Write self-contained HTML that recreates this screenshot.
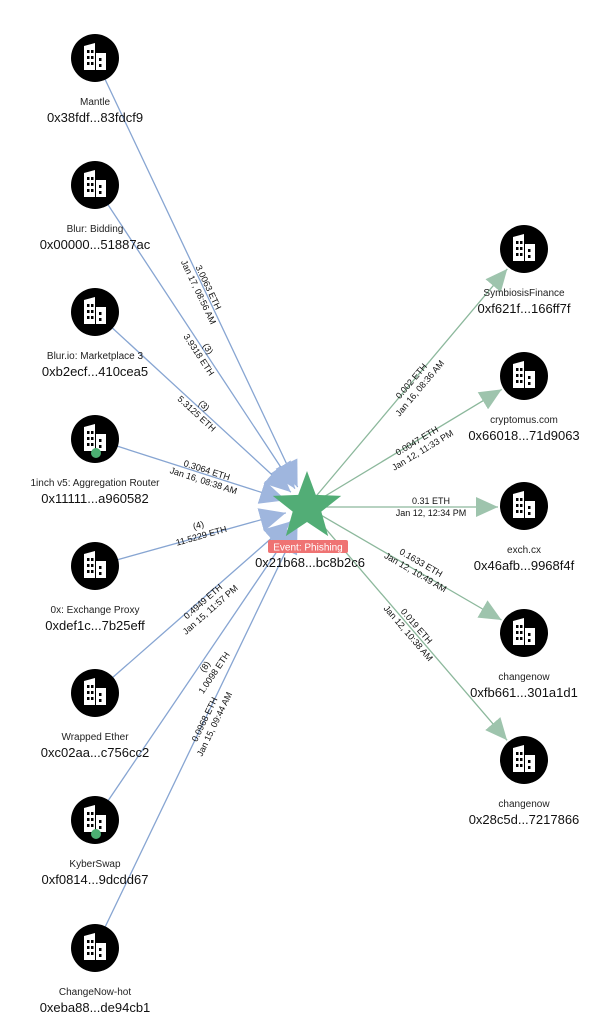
<!DOCTYPE html>
<html><head><meta charset="utf-8"><style>
html,body{margin:0;padding:0;background:#fff;}
svg{display:block;font-family:"Liberation Sans",Arial,sans-serif;}
.el{font-size:9px;fill:#111;text-anchor:middle;}
.nm{font-size:10px;fill:#222;text-anchor:middle;}
.ad{font-size:13px;fill:#111;text-anchor:middle;}
</style></head><body>
<svg width="600" height="1033" viewBox="0 0 600 1033" xmlns="http://www.w3.org/2000/svg">
<defs>
<marker id="ab" markerUnits="userSpaceOnUse" viewBox="0 0 26 24" refX="26" refY="12" markerWidth="26" markerHeight="24" orient="auto"><path d="M0,0 L26,12 L0,24 z" fill="#9fb6de"/></marker>
<marker id="ag" markerUnits="userSpaceOnUse" viewBox="0 0 22 20" refX="22" refY="10" markerWidth="22" markerHeight="20" orient="auto"><path d="M0,0 L22,10 L0,20 z" fill="#9ec4ad"/></marker>
<g id="bld"><circle r="24" fill="#000"/><path d="M-11,-12 L0,-15 L0,12 L-11,12 z" fill="#fff"/><rect x="1" y="-5" width="10" height="17" fill="#fff"/><rect x="-8" y="-8" width="2.5" height="3" fill="#000"/><rect x="-4" y="-8" width="2.5" height="3" fill="#000"/><rect x="-8" y="-2" width="2.5" height="3" fill="#000"/><rect x="-4" y="-2" width="2.5" height="3" fill="#000"/><rect x="-8" y="4" width="2.5" height="3" fill="#000"/><rect x="-4" y="4" width="2.5" height="3" fill="#000"/><rect x="4" y="0" width="2.5" height="3" fill="#000"/><rect x="4" y="6" width="2.5" height="3" fill="#000"/></g>
</defs>
<g stroke="#87a5d2" stroke-width="1.3" fill="none">
<line x1="95" y1="58" x2="297.6" y2="487.1" marker-end="url(#ab)"/>
<line x1="95" y1="185" x2="294.9" y2="488.6" marker-end="url(#ab)"/>
<line x1="95" y1="312" x2="290.8" y2="492.1" marker-end="url(#ab)"/>
<line x1="95" y1="439" x2="286.1" y2="500.3" marker-end="url(#ab)"/>
<line x1="95" y1="566" x2="285.8" y2="512.9" marker-end="url(#ab)"/>
<line x1="95" y1="693" x2="290.5" y2="521.5" marker-end="url(#ab)"/>
<line x1="95" y1="820" x2="294.7" y2="525.2" marker-end="url(#ab)"/>
<line x1="95" y1="948" x2="297.5" y2="526.8" marker-end="url(#ab)"/>
</g>
<g stroke="#8cb89c" stroke-width="1.3" fill="none">
<line x1="307" y1="507" x2="507.3" y2="268.9" marker-end="url(#ag)"/>
<line x1="307" y1="507" x2="501.7" y2="389.4" marker-end="url(#ag)"/>
<line x1="307" y1="507" x2="498" y2="507" marker-end="url(#ag)"/>
<line x1="307" y1="507" x2="501.5" y2="620" marker-end="url(#ag)"/>
<line x1="307" y1="507" x2="507.1" y2="740.3" marker-end="url(#ag)"/>
</g>
<g transform="translate(203,290) rotate(64.6)"><text class="el" y="-3">3.0063 ETH</text><text class="el" y="8">Jan 17, 08:56 AM</text></g>
<g transform="translate(203,352) rotate(56.6)"><text class="el" y="-3">(3)</text><text class="el" y="8">3.9318 ETH</text></g>
<g transform="translate(200,410) rotate(42.6)"><text class="el" y="-3">(3)</text><text class="el" y="8">5.3125 ETH</text></g>
<g transform="translate(205,476) rotate(17.8)"><text class="el" y="-3">0.3064 ETH</text><text class="el" y="8">Jan 16, 08:38 AM</text></g>
<g transform="translate(200,531) rotate(-15.6)"><text class="el" y="-3">(4)</text><text class="el" y="8">11.5229 ETH</text></g>
<g transform="translate(207,606) rotate(-41.3)"><text class="el" y="-3">0.4949 ETH</text><text class="el" y="8">Jan 15, 11:57 PM</text></g>
<g transform="translate(210,670) rotate(-55.9)"><text class="el" y="-3">(8)</text><text class="el" y="8">1.0098 ETH</text></g>
<g transform="translate(210,722) rotate(-64.3)"><text class="el" y="-3">0.0968 ETH</text><text class="el" y="8">Jan 15, 09:44 AM</text></g>
<g transform="translate(416,385) rotate(-49.9)"><text class="el" y="-3">0.002 ETH</text><text class="el" y="8">Jan 16, 08:36 AM</text></g>
<g transform="translate(420,446) rotate(-31.1)"><text class="el" y="-3">0.0047 ETH</text><text class="el" y="8">Jan 12, 11:33 PM</text></g>
<g transform="translate(431,507)"><text class="el" y="-3">0.31 ETH</text><text class="el" y="9">Jan 12, 12:34 PM</text></g>
<g transform="translate(418,568) rotate(30.1)"><text class="el" y="-3">0.1633 ETH</text><text class="el" y="8">Jan 12, 10:49 AM</text></g>
<g transform="translate(412,630) rotate(49.4)"><text class="el" y="-3">0.019 ETH</text><text class="el" y="8">Jan 12, 10:38 AM</text></g>
<polygon points="307,471 315.8,494.9 341.2,495.9 321.3,511.6 328.2,536.1 307,522 285.8,536.1 292.7,511.6 272.8,495.9 298.2,494.9" fill="#52ad76"/>
<rect x="268" y="540" width="80" height="13" rx="2" fill="#ef7373"/>
<text x="308" y="550.5" font-size="10" fill="#fff" text-anchor="middle">Event: Phishing</text>
<text class="ad" x="310" y="567">0x21b68...bc8b2c6</text>
<use href="#bld" x="95" y="58"/><text class="nm" x="95" y="105">Mantle</text><text class="ad" x="95" y="122">0x38fdf...83fdcf9</text>
<use href="#bld" x="95" y="185"/><text class="nm" x="95" y="232">Blur: Bidding</text><text class="ad" x="95" y="249">0x00000...51887ac</text>
<use href="#bld" x="95" y="312"/><text class="nm" x="95" y="359">Blur.io: Marketplace 3</text><text class="ad" x="95" y="376">0xb2ecf...410cea5</text>
<use href="#bld" x="95" y="439"/><circle cx="96" cy="453" r="5" fill="#4caf72"/><text class="nm" x="95" y="486">1inch v5: Aggregation Router</text><text class="ad" x="95" y="503">0x11111...a960582</text>
<use href="#bld" x="95" y="566"/><text class="nm" x="95" y="613">0x: Exchange Proxy</text><text class="ad" x="95" y="630">0xdef1c...7b25eff</text>
<use href="#bld" x="95" y="693"/><text class="nm" x="95" y="740">Wrapped Ether</text><text class="ad" x="95" y="757">0xc02aa...c756cc2</text>
<use href="#bld" x="95" y="820"/><circle cx="96" cy="834" r="5" fill="#4caf72"/><text class="nm" x="95" y="867">KyberSwap</text><text class="ad" x="95" y="884">0xf0814...9dcdd67</text>
<use href="#bld" x="95" y="948"/><text class="nm" x="95" y="995">ChangeNow-hot</text><text class="ad" x="95" y="1012">0xeba88...de94cb1</text>
<use href="#bld" x="524" y="249"/><text class="nm" x="524" y="296">SymbiosisFinance</text><text class="ad" x="524" y="313">0xf621f...166ff7f</text>
<use href="#bld" x="524" y="376"/><text class="nm" x="524" y="423">cryptomus.com</text><text class="ad" x="524" y="440">0x66018...71d9063</text>
<use href="#bld" x="524" y="506"/><text class="nm" x="524" y="553">exch.cx</text><text class="ad" x="524" y="570">0x46afb...9968f4f</text>
<use href="#bld" x="524" y="633"/><text class="nm" x="524" y="680">changenow</text><text class="ad" x="524" y="697">0xfb661...301a1d1</text>
<use href="#bld" x="524" y="760"/><text class="nm" x="524" y="807">changenow</text><text class="ad" x="524" y="824">0x28c5d...7217866</text>
</svg>
</body></html>
